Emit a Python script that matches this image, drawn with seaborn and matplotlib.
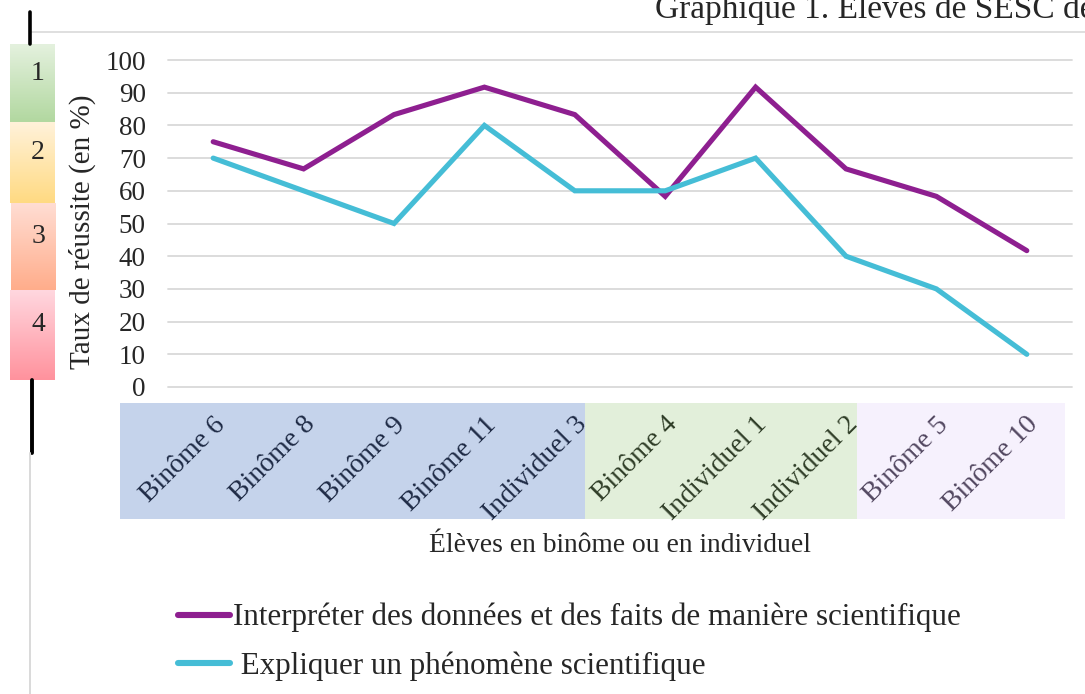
import numpy as np
import pandas as pd
import matplotlib
matplotlib.use("Agg")
import matplotlib.pyplot as plt
import matplotlib.transforms as mtransforms
from matplotlib.patches import Rectangle
from matplotlib.lines import Line2D
from matplotlib.colors import LinearSegmentedColormap
import seaborn as sns

# --- data -------------------------------------------------------------
eleves = ["Binôme 6", "Binôme 8", "Binôme 9", "Binôme 11", "Individuel 3",
          "Binôme 4", "Individuel 1", "Individuel 2", "Binôme 5", "Binôme 10"]
interpreter = [75.0, 66.7, 83.3, 91.7, 83.3, 58.3, 91.7, 66.7, 58.3, 41.7]
expliquer = [70, 60, 50, 80, 60, 60, 70, 40, 30, 10]
serie_names = ["Interpréter des données et des faits de manière scientifique",
               "Expliquer un phénomène scientifique"]
y_ticks = list(range(0, 101, 10))
niveaux = ["1", "2", "3", "4"]

# --- style ------------------------------------------------------------
sns.set_style("white")
plt.rcParams["font.family"] = ["Liberation Serif", "DejaVu Serif"]

W, H = 1085, 694
fig = plt.figure(figsize=(W / 100, H / 100), dpi=100)


def fx(x):
    return x / W


def fy(y):
    return 1 - y / H


colors = {serie_names[0]: "#8E1F90", serie_names[1]: "#45BDD6"}

df = pd.DataFrame({
    "pos": list(range(len(eleves))) * 2,
    "valeur": interpreter + expliquer,
    "serie": [serie_names[0]] * len(eleves) + [serie_names[1]] * len(eleves),
})

# --- main plot ----------------------------------------------------------
ax = fig.add_axes([fx(168), fy(387), fx(1072) - fx(168), fy(60) - fy(387)])
sns.lineplot(data=df, x="pos", y="valeur", hue="serie", palette=colors,
             hue_order=serie_names, sort=False, linewidth=3.7, ax=ax,
             legend=False)
for ln in ax.get_lines():
    ln.set_solid_capstyle("round")
    ln.set_solid_joinstyle("miter")
    ln.set_clip_on(False)

ax.set_xlim(-0.5, len(eleves) - 0.5)
ax.set_ylim(0, 100)
ax.set_yticks(y_ticks)
ax.set_yticklabels([str(v) for v in y_ticks], fontsize=19.5)
ax.yaxis.grid(True, color="#D9D9D9", linewidth=1.3)
ax.xaxis.grid(False)
for gl in ax.get_ygridlines():
    gl.set_clip_on(False)
for s in ax.spines.values():
    s.set_visible(False)
ax.tick_params(axis="both", length=0)
ax.tick_params(axis="y", pad=16)
ax.set_xlabel("")
ax.set_ylabel("")

# rotated category labels
label_colors = ["#1E2A45"] * 5 + ["#2F3D27"] * 3 + ["#524760"] * 2
ax.set_xticks(range(len(eleves)))
ax.set_xticklabels(eleves, rotation=45, ha="right", va="top",
                   rotation_mode="anchor", fontsize=20)
ax.tick_params(axis="x", pad=18)
shift = mtransforms.ScaledTranslation(-0.01, 0, fig.dpi_scale_trans)
for lab, c in zip(ax.get_xticklabels(), label_colors):
    lab.set_transform(lab.get_transform() + shift)
    lab.set_color(c)

# coloured bands behind the category labels
for x0, x1, c in [(120, 585, "#C5D3EB"), (585, 857, "#E2EFDA"),
                  (857, 1065, "#F6F1FD")]:
    fig.add_artist(Rectangle((fx(x0), fy(519)), fx(x1) - fx(x0),
                             fy(403) - fy(519), transform=fig.transFigure,
                             facecolor=c, edgecolor="none", zorder=-1))

# axis titles
fig.text(fx(82), fy(232), "Taux de réussite (en %)", rotation=90,
         ha="center", va="center", fontsize=21)
fig.text(fx(620), fy(546), "Élèves en binôme ou en individuel",
         ha="center", va="center", fontsize=19.8)

# legend
handles = [Line2D([], [], color=colors[n], linewidth=4.4,
                  solid_capstyle="round") for n in serie_names]
fig.legend(handles, [serie_names[0], " " + serie_names[1]],
           loc="upper left", bbox_to_anchor=(fx(178), fy(603)),
           frameon=False, fontsize=22.3, handlelength=1.68,
           handletextpad=0.1, labelspacing=0.6, borderaxespad=0,
           borderpad=0)

# --- surrounding page elements -----------------------------------------
fig.text(fx(655), fy(18), "Graphique 1. Élèves de SESC de",
         ha="left", va="baseline", fontsize=24)
fig.text(fx(203), fy(2), "”", ha="left", va="baseline", fontsize=14)
fig.add_artist(Line2D([fx(30), fx(1085)], [fy(32), fy(32)],
                      color="#D9D9D9", linewidth=1.2))
fig.add_artist(Line2D([fx(29.5), fx(29.5)], [fy(12), fy(44)],
                      color="black", linewidth=2.6))
fig.add_artist(Line2D([fx(32), fx(32)], [fy(380), fy(453)],
                      color="black", linewidth=2.8))
fig.add_artist(Line2D([fx(29.5), fx(29.5)], [fy(453), fy(694)],
                      color="#D9D9D9", linewidth=1.4))

# graded level boxes
boxes = [(10, 44, 122, "#E4F1DE", "#B2D8A0"),
         (10, 122, 203, "#FFF2DA", "#FFDA82"),
         (11, 203, 290, "#FFDDD3", "#FFAD8B"),
         (10, 290, 380, "#FFD7DF", "#FF929D")]
grad = np.linspace(0, 1, 100).reshape(-1, 1)
for (x0, y0, y1, c_top, c_bot), lvl in zip(boxes, niveaux):
    bax = fig.add_axes([fx(x0), fy(y1), fx(x0 + 45) - fx(x0), fy(y0) - fy(y1)])
    cmap = LinearSegmentedColormap.from_list("g", [c_top, c_bot])
    bax.imshow(grad, aspect="auto", cmap=cmap, extent=(0, 1, 0, 1),
               origin="upper")
    bax.set_axis_off()
    bax.text(0.62, 0.62, lvl, ha="center", va="center", fontsize=20,
             transform=bax.transAxes)

fig.savefig("out.png", dpi=100)
